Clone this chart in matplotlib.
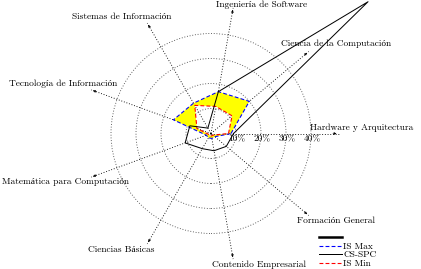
import numpy as np
import matplotlib.pyplot as plt
from matplotlib.lines import Line2D
from matplotlib.patches import Circle, PathPatch
from matplotlib.path import Path

plt.rcParams['font.family'] = ['cmr10', 'Liberation Serif']
plt.rcParams['axes.formatter.use_mathtext'] = True

categories = ["Hardware y Arquitectura", "Ciencia de la Computación", "Ingeniería de Software",
              "Sistemas de Información", "Tecnología de Información", "Matemática para Computación",
              "Ciencias Básicas", "Contenido Empresarial", "Formación General"]
cs_spc = [9, 82, 17, 2.5, 9, 11, 7, 7, 8]
is_max = [8, 20, 17, 14, 16, 2, 2, 2, 2]
is_min = [7, 11, 11, 13, 6, 1, 1, 1, 1]
ticks = [10, 20, 30, 40]
tick_labels = ["10%", "20%", "30%", "40%"]

# label offsets from arrow tips (points)
offsets = [(23, 6), (27, 8), (28, 3.5), (-26, 6), (-28, 6), (-25.5, -5), (-26, -6), (26, -6), (27, -5)]

theta = np.deg2rad(np.arange(len(categories)) * 360 / len(categories))

def xy(vals):
    v = np.asarray(vals, dtype=float)
    x = v * np.cos(theta)
    y = v * np.sin(theta)
    return np.append(x, x[0]), np.append(y, y[0])

fig = plt.figure(figsize=(421 / 72, 269 / 72), dpi=72)
ax = fig.add_axes([0, 0, 1, 1])
s = 2.5
ax.set_xlim(-211 / s, (421 - 211) / s)
ax.set_ylim(-135.5 / s, (269 - 135.5) / s)
ax.axis('off')

fs = 9.4
for t in ticks:
    ax.add_patch(Circle((0, 0), t, fill=False, ls=(0, (1, 2)), lw=0.9, color='0.3', zorder=1))

rtip = 51
for i, cat in enumerate(categories):
    tx, ty = rtip * np.cos(theta[i]), rtip * np.sin(theta[i])
    ax.plot([0, tx], [0, ty], ls=(0, (1, 2)), lw=0.9, color='k', zorder=1)
    ax.annotate('', xy=(tx, ty), xytext=(0.94 * tx, 0.94 * ty),
                arrowprops=dict(arrowstyle='-|>', color='k', lw=0.5, mutation_scale=5))
    ax.annotate(cat, xy=(tx, ty), xytext=offsets[i], textcoords='offset points',
                ha='center', va='center', fontsize=fs)

for t, lab in zip(ticks, tick_labels):
    ax.annotate(lab, xy=(t, 0), xytext=(1, -6), textcoords='offset points',
                ha='center', va='center', fontsize=fs, zorder=5)

# yellow band between IS Max and IS Min
mx, my = xy(is_max)
nx, ny = xy(is_min)
verts = list(zip(mx, my)) + list(zip(nx[::-1], ny[::-1]))
codes = [Path.MOVETO] + [Path.LINETO] * (len(mx) - 1) + [Path.MOVETO] + [Path.LINETO] * (len(nx) - 1)
ax.add_patch(PathPatch(Path(verts, codes), facecolor='yellow', edgecolor='none', zorder=2))

ax.plot(mx, my, color='blue', ls=(0, (3.5, 2)), lw=1.1, zorder=3)
ax.plot(nx, ny, color='red', ls=(0, (3.5, 2)), lw=1.1, zorder=3)
cx, cy = xy(cs_spc)
ax.plot(cx, cy, color='k', lw=1.0, zorder=4, clip_on=False)

handles = [Line2D([], [], color='k', lw=2.5),
           Line2D([], [], color='blue', ls=(0, (3.5, 2)), lw=1.1),
           Line2D([], [], color='k', lw=1.0),
           Line2D([], [], color='red', ls=(0, (3.5, 2)), lw=1.1)]
ax.legend(handles, [' ', 'IS Max', 'CS-SPC', 'IS Min'], loc='upper left',
          bbox_to_anchor=(314 / 421, 40 / 269), frameon=False, fontsize=fs,
          borderpad=0, handlelength=2.5, handletextpad=0.1, labelspacing=0.0)

fig.savefig('out.png', dpi=72)
